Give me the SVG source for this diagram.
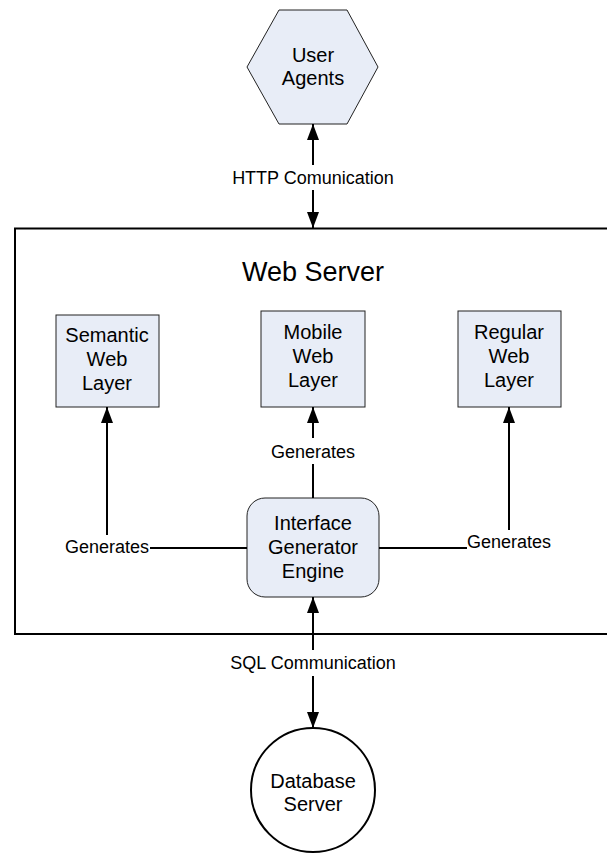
<svg xmlns="http://www.w3.org/2000/svg" width="607" height="853" viewBox="0 0 607 853">
<defs>
<marker id="ahL" viewBox="0 0 16 12" refX="16" refY="6" markerWidth="16" markerHeight="12" markerUnits="userSpaceOnUse" orient="auto">
<path d="M0,0 L16,6 L0,12 z" fill="#000"/>
</marker>
</defs>
<style>
text{font-family:"Liberation Sans",Arial,sans-serif;fill:#000;text-anchor:middle;}
.n{font-size:20px;}
.l{font-size:18px;}
.t{font-size:27px;}
.node{fill:#e8edf7;stroke:#222;stroke-width:1;}
.c{stroke:#000;stroke-width:2;fill:none;}
</style>
<g id="web-server">
<rect x="15" y="228.5" width="600" height="405.5" fill="#fff" stroke="#000" stroke-width="2"/>
<text class="t" x="313" y="281">Web Server</text>
</g>
<g id="user-agents">
<polygon class="node" points="279,10 347,10 378,67 347,124 279,124 247,67"/>
<text class="n" x="313" y="62">User</text>
<text class="n" x="313" y="85">Agents</text>
</g>
<g id="semantic">
<rect class="node" x="56" y="315" width="103" height="92"/>
<text class="n" x="107" y="342">Semantic</text>
<text class="n" x="107" y="366">Web</text>
<text class="n" x="107" y="390">Layer</text>
</g>
<g id="mobile">
<rect class="node" x="261" y="311" width="104" height="96"/>
<text class="n" x="313" y="339">Mobile</text>
<text class="n" x="313" y="363">Web</text>
<text class="n" x="313" y="387">Layer</text>
</g>
<g id="regular">
<rect class="node" x="458" y="311" width="103" height="96"/>
<text class="n" x="509" y="339">Regular</text>
<text class="n" x="509" y="363">Web</text>
<text class="n" x="509" y="387">Layer</text>
</g>
<g id="engine">
<rect class="node" x="247" y="498" width="132" height="99" rx="18" ry="18"/>
<text class="n" x="313" y="530">Interface</text>
<text class="n" x="313" y="554">Generator</text>
<text class="n" x="313" y="578">Engine</text>
</g>
<g id="database">
<circle cx="313" cy="790" r="62" fill="#fff" stroke="#000" stroke-width="2"/>
<text class="n" x="313" y="788">Database</text>
<text class="n" x="313" y="811">Server</text>
</g>
<g id="connectors">
<line class="c" x1="313" y1="165" x2="313" y2="124" marker-end="url(#ahL)"/>
<line class="c" x1="313" y1="190" x2="313" y2="228" marker-end="url(#ahL)"/>
<text class="l" x="313" y="184">HTTP Comunication</text>

<line class="c" x1="313" y1="498" x2="313" y2="464"/>
<line class="c" x1="313" y1="438" x2="313" y2="407" marker-end="url(#ahL)"/>
<text class="l" x="313" y="458">Generates</text>

<line class="c" x1="247" y1="548" x2="150" y2="548"/>
<line class="c" x1="107" y1="535" x2="107" y2="407" marker-end="url(#ahL)"/>
<text class="l" x="107" y="553">Generates</text>

<line class="c" x1="379" y1="548" x2="467" y2="548"/>
<line class="c" x1="509" y1="530" x2="509" y2="407" marker-end="url(#ahL)"/>
<text class="l" x="509" y="548">Generates</text>

<line class="c" x1="313" y1="650" x2="313" y2="597" marker-end="url(#ahL)"/>
<line class="c" x1="313" y1="676" x2="313" y2="728" marker-end="url(#ahL)"/>
<text class="l" x="313" y="669">SQL Communication</text>
</g>
</svg>
